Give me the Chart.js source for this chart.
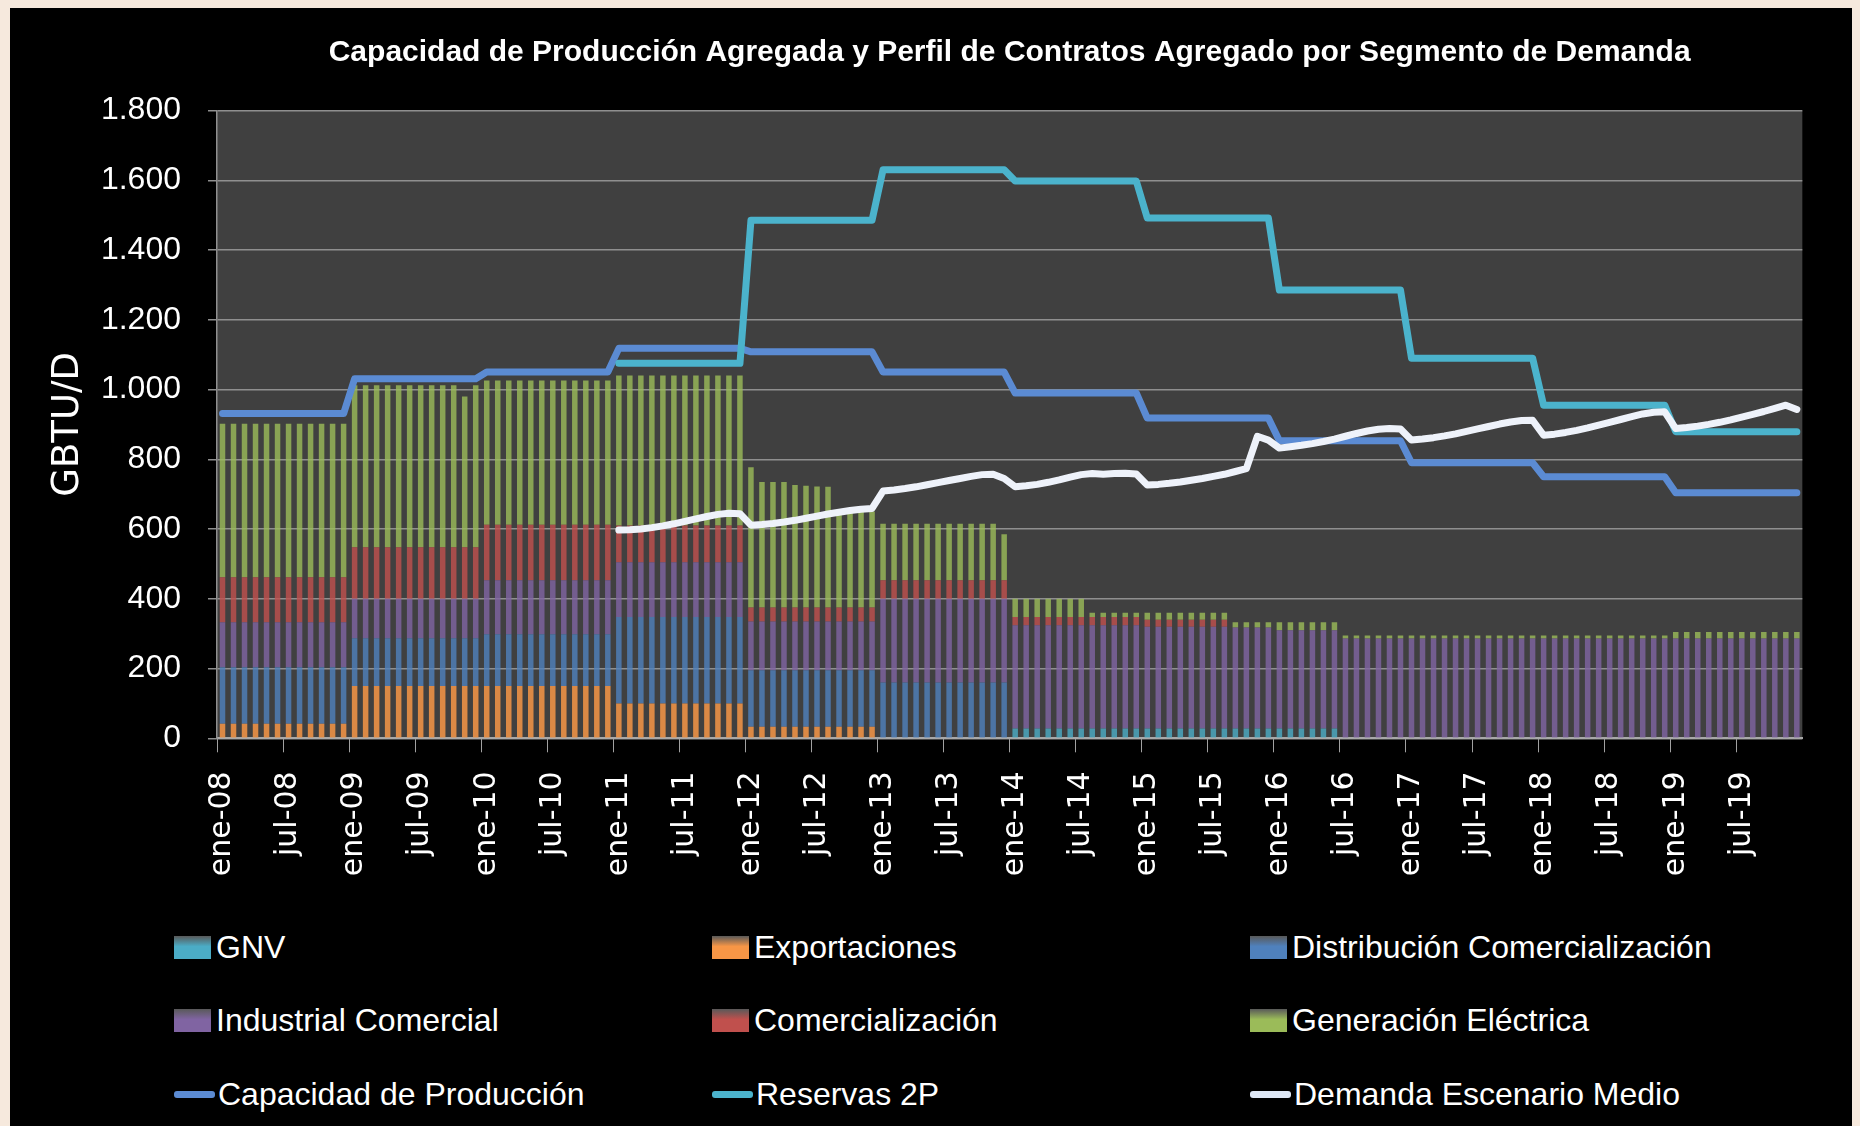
<!DOCTYPE html>
<html lang="es">
<head>
<meta charset="utf-8">
<title>Capacidad de Producción Agregada y Perfil de Contratos</title>
<script src="https://cdn.jsdelivr.net/npm/chart.js@4.4.1/dist/chart.umd.min.js"></script>
<style>
  html, body { margin: 0; padding: 0; }
  body { width: 1860px; height: 1126px; background: #f6e9dd; position: relative; overflow: hidden; }
  #panel { position: absolute; left: 10px; top: 8px; width: 1842px; height: 1118px; background: #000; }
  #chartBox { position: absolute; left: 0; top: 0; width: 1842px; height: 890px; }
  .leyenda { position: absolute; display: flex; align-items: center; height: 40px; color: #fff;
             font: 32px 'Liberation Sans', Arial, sans-serif; white-space: nowrap; }
  .caja { width: 37px; height: 23px; margin-right: 5px; }
  .linea { width: 41px; height: 7px; margin-right: 3px; border-radius: 3px; }
</style>
</head>
<body>
<div id="panel">
  <div id="chartBox"><canvas id="grafico"></canvas></div>
  <div id="leyenda"></div>
</div>
<script>
// categorias: meses ene-08 .. dic-19
const meses = ['ene','feb','mar','abr','may','jun','jul','ago','sep','oct','nov','dic'];
const anios = ['08','09','10','11','12','13','14','15','16','17','18','19'];
const ticksY = [0, 200, 400, 600, 800, 1000, 1200, 1400, 1600, 1800];

// barras apiladas (GBTU/D), una fila por año
const gnv = [
  0,0,0,0,0,0,0,0,0,0,0,0,
  0,0,0,0,0,0,0,0,0,0,0,0,
  0,0,0,0,0,0,0,0,0,0,0,0,
  0,0,0,0,0,0,0,0,0,0,0,0,
  0,0,0,0,0,0,0,0,0,0,0,0,
  0,0,0,0,0,0,0,0,0,0,0,0,
  28,28,28,28,28,28,28,28,28,28,28,28,
  28,28,28,28,28,28,28,28,28,28,28,28,
  28,28,28,28,28,28,0,0,0,0,0,0,
  0,0,0,0,0,0,0,0,0,0,0,0,
  0,0,0,0,0,0,0,0,0,0,0,0,
  0,0,0,0,0,0,0,0,0,0,0,0
];
const exportaciones = [
  42,42,42,42,42,42,42,42,42,42,42,42,
  150,150,150,150,150,150,150,150,150,150,150,150,
  150,150,150,150,150,150,150,150,150,150,150,150,
  100,100,100,100,100,100,100,100,100,100,100,100,
  33,33,33,33,33,33,33,33,33,33,33,33,
  0,0,0,0,0,0,0,0,0,0,0,0,
  0,0,0,0,0,0,0,0,0,0,0,0,
  0,0,0,0,0,0,0,0,0,0,0,0,
  0,0,0,0,0,0,0,0,0,0,0,0,
  0,0,0,0,0,0,0,0,0,0,0,0,
  0,0,0,0,0,0,0,0,0,0,0,0,
  0,0,0,0,0,0,0,0,0,0,0,0
];
const distribucion = [
  162,162,162,162,162,162,162,162,162,162,162,162,
  137,137,137,137,137,137,137,137,137,137,137,137,
  148,148,148,148,148,148,148,148,148,148,148,148,
  248,248,248,248,248,248,248,248,248,248,248,248,
  162,162,162,162,162,162,162,162,162,162,162,162,
  160,160,160,160,160,160,160,160,160,160,160,160,
  0,0,0,0,0,0,0,0,0,0,0,0,
  0,0,0,0,0,0,0,0,0,0,0,0,
  0,0,0,0,0,0,0,0,0,0,0,0,
  0,0,0,0,0,0,0,0,0,0,0,0,
  0,0,0,0,0,0,0,0,0,0,0,0,
  0,0,0,0,0,0,0,0,0,0,0,0
];
const industrial = [
  129,129,129,129,129,129,129,129,129,129,129,129,
  113,113,113,113,113,113,113,113,113,113,113,113,
  155,155,155,155,155,155,155,155,155,155,155,155,
  157,157,157,157,157,157,157,157,157,157,157,157,
  140,140,140,140,140,140,140,140,140,140,140,140,
  240,240,240,240,240,240,240,240,240,240,240,240,
  296,296,296,296,296,296,296,296,296,296,296,296,
  292,292,292,292,292,292,292,292,290,290,290,290,
  282,282,282,282,282,282,286,286,286,286,286,286,
  286,286,286,286,286,286,286,286,286,286,286,286,
  286,286,286,286,286,286,286,286,286,286,286,286,
  286,286,286,286,286,286,286,286,286,286,286,286
];
const comercializacion = [
  129,129,129,129,129,129,129,129,129,129,129,129,
  148,148,148,148,148,148,148,148,148,148,148,148,
  159,159,159,159,159,159,159,159,159,159,159,159,
  105,105,105,105,105,105,105,105,105,105,105,105,
  40,40,40,40,40,40,40,40,40,40,40,40,
  53,53,53,53,53,53,53,53,53,53,53,53,
  24,24,24,24,24,24,24,24,24,24,24,24,
  20,20,20,20,20,20,20,20,0,0,0,0,
  0,0,0,0,0,0,0,0,0,0,0,0,
  0,0,0,0,0,0,0,0,0,0,0,0,
  0,0,0,0,0,0,0,0,0,0,0,0,
  0,0,0,0,0,0,0,0,0,0,0,0
];
const generacion = [
  440,440,440,440,440,440,440,440,440,440,440,440,
  464,464,464,464,464,464,464,464,464,464,432,464,
  414,414,414,414,414,414,414,414,414,414,414,414,
  430,430,430,430,430,430,430,430,430,430,430,430,
  402,360,360,360,351,349,347,346,275,275,275,275,
  162,162,162,162,162,162,162,162,162,162,162,132,
  52,52,52,52,52,52,52,12,12,12,12,12,
  20,20,20,20,20,20,20,20,15,15,15,15,
  23,23,23,23,23,23,9,9,9,9,9,9,
  9,9,9,9,9,9,9,9,9,9,9,9,
  9,9,9,9,9,9,9,9,9,9,9,9,
  19,19,19,19,19,19,19,19,19,19,19,19
];

// lineas
const capacidad = [
  931,931,931,931,931,931,931,931,931,931,931,931,
  1031,1031,1031,1031,1031,1031,1031,1031,1031,1031,1031,1031,
  1050,1050,1050,1050,1050,1050,1050,1050,1050,1050,1050,1050,
  1118,1118,1118,1118,1118,1118,1118,1118,1118,1118,1118,1118,
  1108,1108,1108,1108,1108,1108,1108,1108,1108,1108,1108,1108,
  1050,1050,1050,1050,1050,1050,1050,1050,1050,1050,1050,1050,
  990,990,990,990,990,990,990,990,990,990,990,990,
  918,918,918,918,918,918,918,918,918,918,918,918,
  853,853,853,853,853,853,853,853,853,853,853,853,
  790,790,790,790,790,790,790,790,790,790,790,790,
  750,750,750,750,750,750,750,750,750,750,750,750,
  704,704,704,704,704,704,704,704,704,704,704,704
];
const reservas2P = [
  null,null,null,null,null,null,null,null,null,null,null,null,
  null,null,null,null,null,null,null,null,null,null,null,null,
  null,null,null,null,null,null,null,null,null,null,null,null,
  1075,1075,1075,1075,1075,1075,1075,1075,1075,1075,1075,1075,
  1485,1485,1485,1485,1485,1485,1485,1485,1485,1485,1485,1485,
  1630,1630,1630,1630,1630,1630,1630,1630,1630,1630,1630,1630,
  1598,1598,1598,1598,1598,1598,1598,1598,1598,1598,1598,1598,
  1492,1492,1492,1492,1492,1492,1492,1492,1492,1492,1492,1492,
  1285,1285,1285,1285,1285,1285,1285,1285,1285,1285,1285,1285,
  1090,1090,1090,1090,1090,1090,1090,1090,1090,1090,1090,1090,
  955,955,955,955,955,955,955,955,955,955,955,955,
  879,879,879,879,879,879,879,879,879,879,879,879
];
const demanda = [
  null,null,null,null,null,null,null,null,null,null,null,null,
  null,null,null,null,null,null,null,null,null,null,null,null,
  null,null,null,null,null,null,null,null,null,null,null,null,
  597,598,600,604,609,615,622,629,636,642,645,644,
  611,613,616,620,625,631,637,643,648,653,657,659,
  709,712,716,721,727,733,739,745,751,756,757,745,
  721,724,728,734,741,749,756,759,757,759,760,758,
  726,728,731,735,740,745,751,757,765,773,866,855,
  832,836,840,845,851,858,866,874,881,886,888,887,
  855,858,862,867,873,880,887,894,901,907,911,912,
  869,872,877,883,890,898,906,914,922,930,935,936,
  888,891,895,900,906,913,921,929,937,946,955,943
];

const etiquetas = [];
anios.forEach(a => meses.forEach(m => etiquetas.push(m + '-' + a)));

function miles(v) {
  return v >= 1000 ? Math.floor(v / 1000) + '.' + String(v % 1000).padStart(3, '0') : String(v);
}

// fondo gris del area de trazado
const fondoGrafico = {
  id: 'fondoGrafico',
  beforeDraw(chart) {
    const {ctx, chartArea: a} = chart;
    ctx.save();
    ctx.fillStyle = '#404040';
    ctx.fillRect(a.left, a.top, a.right - a.left, a.bottom - a.top);
    ctx.restore();
  }
};

Chart.defaults.font.family = "'Liberation Sans', Arial, sans-serif";
Chart.defaults.color = '#ffffff';

const barra = (label, data, color) => ({
  type: 'bar', label, data, backgroundColor: color, borderWidth: 0,
  stack: 'contratos', order: 3, barPercentage: 0.5, categoryPercentage: 1.0
});
const linea = (label, data, color, stack, order) => ({
  type: 'line', label, data, borderColor: color, backgroundColor: color, borderWidth: 7,
  pointRadius: 0, pointHoverRadius: 0, tension: 0, stack, order,
  borderJoinStyle: 'round', borderCapStyle: 'round', fill: false
});

const series = [
  barra('GNV', gnv, 'rgba(75,172,198,0.8)'),
  barra('Exportaciones', exportaciones, 'rgba(247,150,70,0.85)'),
  barra('Distribución Comercialización', distribucion, 'rgba(79,129,189,0.8)'),
  barra('Industrial Comercial', industrial, 'rgba(128,100,162,0.8)'),
  barra('Comercialización', comercializacion, 'rgba(192,80,77,0.8)'),
  barra('Generación Eléctrica', generacion, 'rgba(155,187,89,0.8)'),
  linea('Capacidad de Producción', capacidad, '#5b8bd3', 'cap', 2),
  linea('Reservas 2P', reservas2P, '#4bb3cc', 'res', 1),
  linea('Demanda Escenario Medio', demanda, '#eef2fa', 'dem', 0)
];

new Chart(document.getElementById('grafico'), {
  type: 'bar',
  data: { labels: etiquetas, datasets: series },
  plugins: [fondoGrafico],
  options: {
    responsive: true,
    maintainAspectRatio: false,
    animation: false,
    layout: { padding: { left: 0, right: 19, top: 0, bottom: 0 } },
    plugins: {
      legend: { display: false },
      tooltip: { enabled: false },
      title: {
        display: true,
        fullSize: false,
        text: 'Capacidad de Producción Agregada y Perfil de Contratos Agregado por Segmento de Demanda',
        color: '#ffffff',
        font: { size: 30, weight: 'bold' },
        padding: { top: 27, bottom: 39.5 }
      }
    },
    scales: {
      x: {
        stacked: true,
        offset: true,
        afterFit: (s) => { s.height = 159.7; },
        grid: {
          offset: true, drawOnChartArea: false, drawTicks: true, tickLength: 14,
          tickColor: (c) => (c.index % 6 === 0 ? '#a0a0a0' : 'rgba(0,0,0,0)')
        },
        border: { display: true, color: '#a8a8a8', width: 2 },
        ticks: {
          autoSkip: false, maxRotation: 90, minRotation: 90, padding: 19,
          color: '#ffffff', font: { family: "'DejaVu Sans', sans-serif", size: 30 },
          callback: (v, i) => (i % 6 === 0 ? etiquetas[i] : '')
        }
      },
      y: {
        stacked: true,
        min: ticksY[0],
        max: ticksY[ticksY.length - 1],
        afterFit: (s) => { s.width = 207; },
        grid: { color: '#8f8f8f', lineWidth: 1.5, tickLength: 9, tickColor: '#8f8f8f' },
        border: { display: true, color: '#8f8f8f', width: 1.5 },
        ticks: {
          stepSize: 200, padding: 27, color: '#ffffff', font: { size: 32 },
          callback: (v) => miles(v)
        },
        title: {
          display: true, text: 'GBTU/D', color: '#ffffff',
          font: { family: "'DejaVu Sans', sans-serif", size: 37 },
          padding: { top: 36, bottom: 0 }
        }
      }
    }
  }
});

// leyenda en tres columnas
const leyendaItems = [
  ['GNV', '#4bacc6', 'caja'], ['Exportaciones', '#f79646', 'caja'], ['Distribución Comercialización', '#4f81bd', 'caja'],
  ['Industrial Comercial', '#8064a2', 'caja'], ['Comercialización', '#c0504d', 'caja'], ['Generación Eléctrica', '#9bbb59', 'caja'],
  ['Capacidad de Producción', '#5b8bd3', 'linea'], ['Reservas 2P', '#4bb3cc', 'linea'], ['Demanda Escenario Medio', '#dfe8f6', 'linea']
];
const colX = [164, 702, 1240];
const filaY = [939, 1012, 1086];
const cont = document.getElementById('leyenda');
leyendaItems.forEach((it, i) => {
  const d = document.createElement('div');
  d.className = 'leyenda';
  d.style.left = colX[i % 3] + 'px';
  d.style.top = (filaY[Math.floor(i / 3)] - 20) + 'px';
  const m = document.createElement('span');
  m.className = it[2];
  m.style.background = it[2] === 'caja'
    ? 'linear-gradient(to bottom, rgba(255,255,255,0.35), ' + it[1] + ' 45%, ' + it[1] + ')'
    : it[1];
  d.appendChild(m);
  d.appendChild(document.createTextNode(it[0]));
  cont.appendChild(d);
});
</script>
</body>
</html>
